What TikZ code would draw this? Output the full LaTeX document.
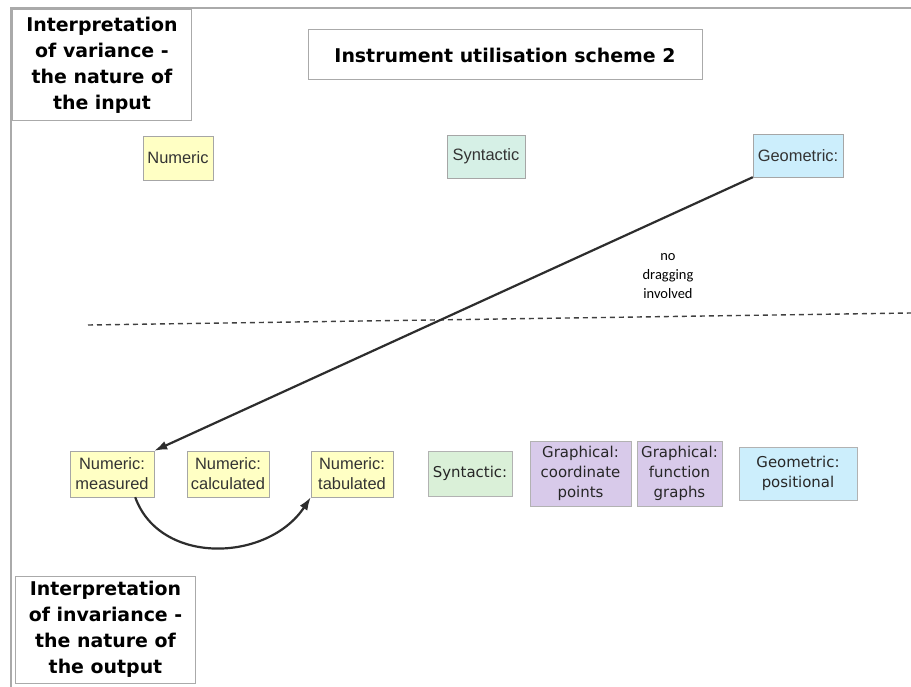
\documentclass[tikz,border=0pt]{standalone}
\usepackage{fontspec}
\usetikzlibrary{arrows.meta}
\newfontfamily\headfont{DejaVu Sans}
\newfontfamily\boxfont{DejaVu Sans}
\newfontfamily\numfont{Liberation Sans}
\newfontfamily\notefont{Carlito}
\definecolor{framegray}{RGB}{170,170,170}
\definecolor{numyellow}{RGB}{255,255,196}
\definecolor{synmint}{RGB}{214,240,230}
\definecolor{syngreen}{RGB}{218,240,216}
\definecolor{geoblue}{RGB}{204,238,252}
\definecolor{graphlilac}{RGB}{216,202,234}
\definecolor{arrowgray}{RGB}{45,45,45}
\tikzset{>={Latex[length=13bp,width=9bp]}}
\tikzset{
  headbox/.style={draw=framegray, line width=1bp, fill=white, inner sep=0pt, align=center,
    font=\headfont\bfseries\fontsize{19}{26}\selectfont},
  numbox/.style={draw=gray!70, fill=numyellow, inner sep=0pt, align=center,
    text=black!80, font=\numfont\fontsize{16.5}{20}\selectfont},
  kindbox/.style={draw=gray!60, inner sep=0pt, align=center,
    text=black!85, font=\boxfont\fontsize{15}{20}\selectfont},
  flow/.style={->, line width=2.2bp, draw=arrowgray}
}

\begin{document}
\begin{tikzpicture}[x=1bp, y=-1bp]
	\useasboundingbox (0,0) rectangle (911,687);
	\fill[white] (0,0) rectangle (911,687);

	% frame of the slide
	\draw[framegray, line width=2bp] (10,8) -- (911,8);
	\draw[framegray, line width=2bp] (11,8) -- (11,687);

	% headings
	\node[headbox, minimum width=178bp, minimum height=110bp] (variance) at (102,65)
		{Interpretation\\of variance -\\the nature of\\the input};
	\node[headbox, minimum width=394bp, minimum height=50bp] (title) at (505,55)
		{Instrument utilisation scheme 2};
	\node[headbox, minimum width=179bp, minimum height=107bp] (invariance) at (105.5,629.5)
		{Interpretation\\of invariance -\\the nature of\\the output};

	% input
	\node[numbox, minimum width=70bp, minimum height=44bp] (numin) at (178,158) {Numeric};
	\node[numbox, fill=synmint, minimum width=78bp, minimum height=43bp] (synin) at (486,156.5) {Syntactic};
	\node[numbox, fill=geoblue, minimum width=90bp, minimum height=43bp] (geoin) at (798,155.5) {Geometric:};

	\node[font=\notefont\fontsize{14.5}{19}\selectfont, align=center, text=black] (nodrag) at (668,276)
		{no\\dragging\\involved};

	\coordinate (cutleft) at (88,325);
	\coordinate (cutright) at (911,313);
	\draw[line width=1.4bp, black!75, dash pattern=on 5bp off 4bp] (cutleft) -- (cutright);

	% output
	\node[numbox, minimum width=84bp, minimum height=46bp] (measured) at (112,474) {Numeric:\\measured};
	\node[numbox, minimum width=82bp, minimum height=46bp] (calculated) at (228,474) {Numeric:\\calculated};
	\node[numbox, minimum width=82bp, minimum height=46bp] (tabulated) at (352,474) {Numeric:\\tabulated};
	\node[kindbox, fill=syngreen, minimum width=84bp, minimum height=45bp] (synout) at (470,473.5) {Syntactic:};
	\node[kindbox, fill=graphlilac, minimum width=101bp, minimum height=65bp] (coordpts) at (580.5,473.5)
		{Graphical:\\coordinate\\points};
	\node[kindbox, fill=graphlilac, minimum width=85bp, minimum height=65bp] (funcgraph) at (679.5,473.5)
		{Graphical:\\function\\graphs};
	\node[kindbox, fill=geoblue, minimum width=118bp, minimum height=53bp] (geoout) at (798,473.5)
		{Geometric:\\positional};

	\draw[flow] (geoin.south west) -- (measured.north east);
	\draw[flow] (measured.-45) .. controls (160,566) and (268,562) .. (tabulated.south west);
\end{tikzpicture}
\end{document}
